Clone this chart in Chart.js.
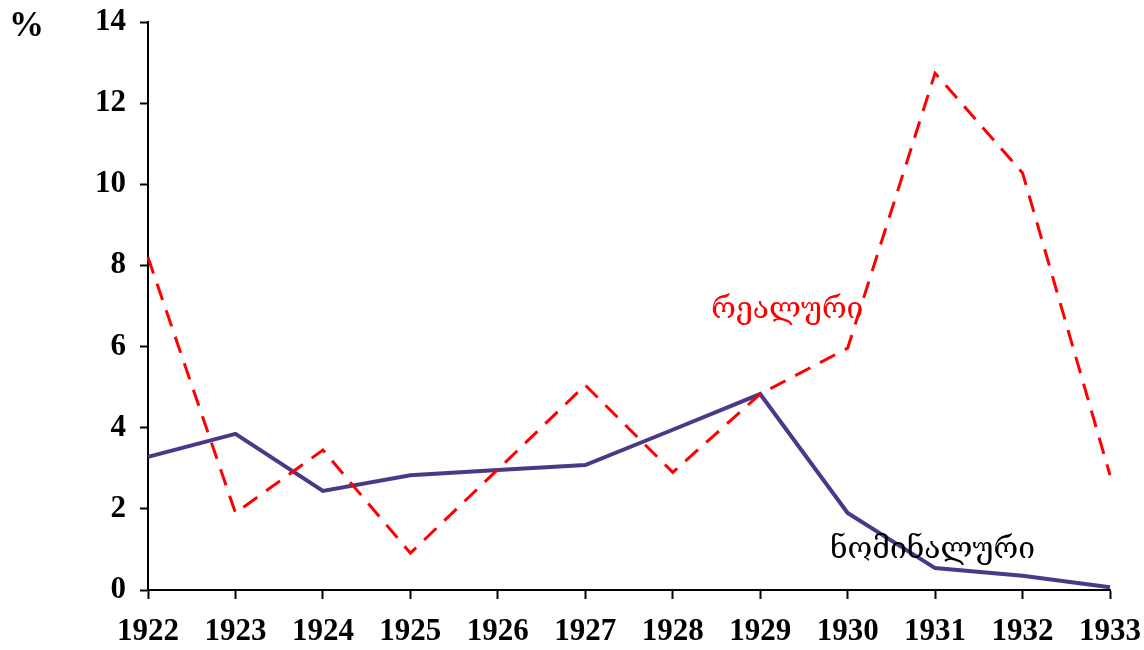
<!DOCTYPE html>
<html>
<head>
<meta charset="utf-8">
<script src="https://cdn.jsdelivr.net/npm/chart.js@4/dist/chart.umd.min.js"></script>
<style>
  html, body { margin: 0; padding: 0; background: #fff; }
  #wrap { width: 1144px; height: 650px; position: relative; }
</style>
</head>
<body>
<div id="wrap"><canvas id="c"></canvas></div>
<script>
// years on the x axis and the two growth series (%)
const years = ['1922','1923','1924','1925','1926','1927','1928','1929','1930','1931','1932','1933'];
const nominal = [3.28, 3.85, 2.44, 2.83, 2.96, 3.08, 3.95, 4.83, 1.9, 0.54, 0.35, 0.07];
const real = [8.2, 1.9, 3.45, 0.91, 2.97, 5.05, 2.9, 4.83, 5.96, 12.74, 10.28, 2.83];
const yTicks = [0, 2, 4, 6, 8, 10, 12, 14];

const seriesLabels = [
  { text: 'რეალური', x: 7.31, y: 6.9, color: '#ff0000' },
  { text: 'ნომინალური', x: 8.97, y: 0.99, color: '#000000' }
];

const labelPlugin = {
  id: 'seriesLabels',
  afterDatasetsDraw(chart) {
    const ctx = chart.ctx;
    const xs = chart.scales.x, ys = chart.scales.y;
    ctx.save();
    ctx.textAlign = 'center';
    ctx.textBaseline = 'middle';
    ctx.font = '30px "DejaVu Serif"';
    seriesLabels.forEach(l => {
      ctx.fillStyle = l.color;
      ctx.fillText(l.text, xs.getPixelForValue(l.x), ys.getPixelForValue(l.y));
    });
    // unit mark above the value axis
    ctx.fillStyle = '#000';
    ctx.textAlign = 'left';
    ctx.textBaseline = 'alphabetic';
    ctx.font = 'bold 35px "Liberation Serif"';
    ctx.fillText('%', 9, 36);
    ctx.restore();
  }
};

const tickFont = { family: '"Liberation Serif"', size: 31, weight: 'bold' };

new Chart(document.getElementById('c'), {
  type: 'line',
  data: {
    labels: years,
    datasets: [
      { data: real, borderColor: '#ff0000', borderWidth: 3, borderDash: [17, 11], pointRadius: 0, tension: 0, fill: false },
      { data: nominal, borderColor: '#4a3888', borderWidth: 4, pointRadius: 0, tension: 0, fill: false }
    ]
  },
  options: {
    responsive: true,
    maintainAspectRatio: false,
    animation: false,
    layout: { padding: { top: 22, right: 34, left: 0, bottom: 0 } },
    plugins: { legend: { display: false }, tooltip: { enabled: false } },
    scales: {
      x: {
        offset: false,
        grid: { drawOnChartArea: false, tickLength: 9, tickColor: '#000', tickWidth: 2 },
        border: { color: '#000', width: 2 },
        ticks: { color: '#000', font: tickFont, maxRotation: 0, autoSkip: false, padding: 14 },
        afterFit(s) { s.height = 60; s.paddingLeft = 0; s.paddingRight = 0; }
      },
      y: {
        min: 0, max: 14,
        afterBuildTicks(s) { s.ticks = yTicks.map(v => ({ value: v })); },
        grid: { drawOnChartArea: false, tickLength: 8, tickColor: '#000', tickWidth: 2 },
        border: { color: '#000', width: 2 },
        ticks: { color: '#000', font: tickFont, padding: 14 },
        afterFit(s) { s.width = 148; s.paddingTop = 0; s.paddingBottom = 0; }
      }
    }
  },
  plugins: [labelPlugin]
});
</script>
</body>
</html>
